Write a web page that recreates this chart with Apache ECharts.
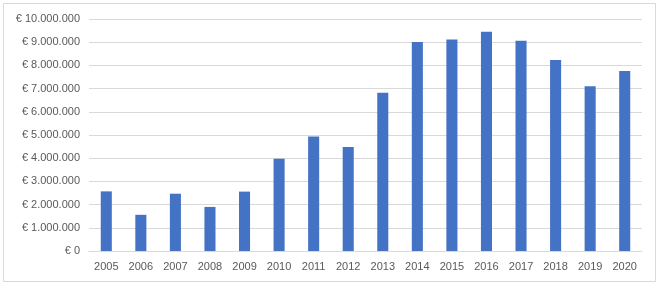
<!DOCTYPE html>
<html>
<head>
<meta charset="utf-8">
<script src="https://cdn.jsdelivr.net/npm/echarts@6/dist/echarts.min.js"></script>
<style>html,body{margin:0;padding:0;background:#fff}#c{width:659px;height:286px}</style>
</head>
<body>
<div id="c"></div>
<script>
var years = ['2005','2006','2007','2008','2009','2010','2011','2012','2013','2014','2015','2016','2017','2018','2019','2020'];
var amounts = [2570000,1560000,2470000,1900000,2560000,3980000,4930000,4480000,6820000,9010000,9120000,9450000,9060000,8230000,7100000,7760000];
var yMin = 0, yMax = 10000000, yStep = 1000000;

function fmt(v){
  var s = String(Math.round(v));
  return '€ ' + s.replace(/\B(?=(\d{3})+(?!\d))/g, '.');
}
var chart = echarts.init(document.getElementById('c'), null, {renderer:'canvas'});
chart.setOption({
  animation:false,
  backgroundColor:'#ffffff',
  graphic:[{type:'rect',shape:{x:3.5,y:3.5,width:652,height:278},style:{fill:'none',stroke:'#d9d9d9',lineWidth:1},silent:true}],
  grid:{left:89,right:17,top:19,bottom:35},
  xAxis:{type:'category',data:years,
    axisLine:{lineStyle:{color:'#d9d9d9'}},axisTick:{show:false},
    axisLabel:{color:'#595959',fontFamily:'Liberation Sans',fontSize:11,margin:10}},
  yAxis:{type:'value',min:yMin,max:yMax,interval:yStep,
    axisLine:{show:false},axisTick:{show:false},
    splitLine:{lineStyle:{color:'#d9d9d9'}},
    axisLabel:{color:'#595959',fontFamily:'Liberation Sans',fontSize:11,margin:9,formatter:fmt}},
  series:[{type:'bar',data:amounts,barWidth:'32%',itemStyle:{color:'#4472c4'}}]
});
</script>
</body>
</html>
